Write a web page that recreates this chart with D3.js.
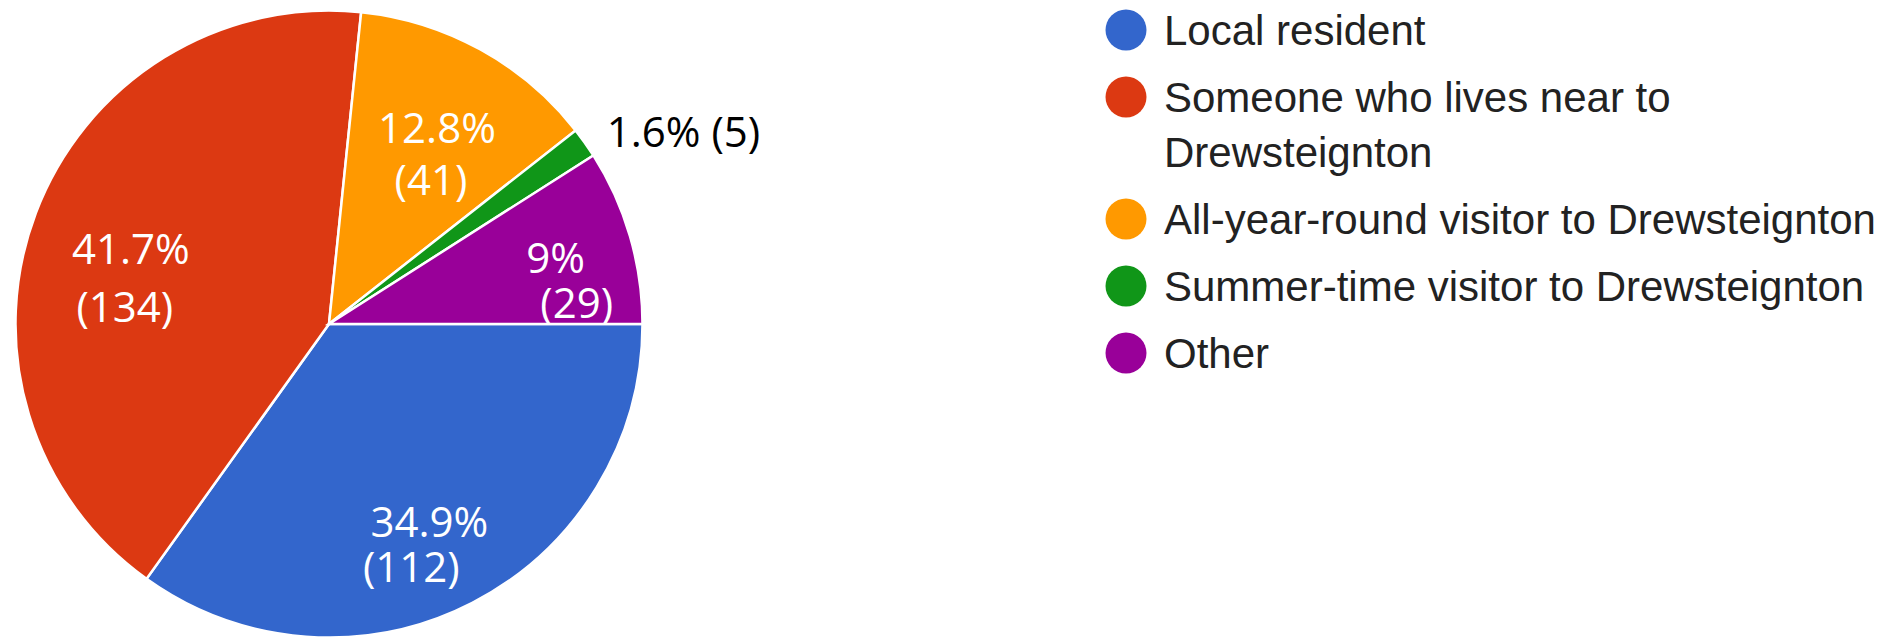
<!DOCTYPE html>
<html>
<head>
<meta charset="utf-8">
<script src="https://cdn.jsdelivr.net/npm/d3@7"></script>
<style>
  body { margin: 0; background: #fff; }
</style>
</head>
<body>
<svg id="pie-chart"></svg>
<script>
// data
const categories = ["Local resident", "Someone who lives near to Drewsteignton", "All-year-round visitor to Drewsteignton", "Summer-time visitor to Drewsteignton", "Other"];
const counts = [112, 134, 41, 5, 29];
const sliceColors = ["#3366cc", "#dc3912", "#ff9900", "#109618", "#990099"];

const width = 1903;
const height = 637;
const cx = 329, cy = 324;
const radius = 313.5;

// small hand tweaks for label placement [dx1, dy1, dx2, dy2] from the centroid
const labelNudge = [[0, 18, -18, 63], [7, 18, 1, 76], [2, 11, -4, 63], [0, 0, 0, 0], [16, 10, 37, 55]];

const total = d3.sum(counts);
const pieData = categories.map((c, i) => ({name: c, value: counts[i], idx: i}));

const color = d3.scaleOrdinal().domain(categories).range(sliceColors);

const svg = d3.select("#pie-chart")
  .attr("width", width)
  .attr("height", height);

const g = svg.append("g")
  .attr("transform", `translate(${cx}, ${cy})`);

// google style: first slice starts at 3 o'clock and goes clockwise, no sorting
const pie = d3.pie().value(d => d.value).sort(null)
  .startAngle(Math.PI / 2).endAngle(Math.PI / 2 + 2 * Math.PI);

const arc = d3.arc().innerRadius(0).outerRadius(radius);
const labelArc = d3.arc().innerRadius(radius * 0.7).outerRadius(radius * 0.7);
const edgeArc = d3.arc().innerRadius(radius).outerRadius(radius);

const arcs = pie(pieData);

g.selectAll("path")
  .data(arcs)
  .enter()
  .append("path")
  .attr("d", arc)
  .attr("fill", d => color(d.data.name))
  .attr("stroke", "#fff")
  .style("stroke-width", "2.5px");

const pct = v => String(Math.round(v / total * 1000) / 10);

const labelFont = "'Open Sans', 'DejaVu Sans', sans-serif";

// labels inside the big slices
arcs.forEach(d => {
  const p = pct(d.data.value);
  const n = labelNudge[d.data.idx];
  if (+p >= 5) {
    const [x, y] = labelArc.centroid(d);
    g.append("text")
      .attr("x", x + n[0]).attr("y", y + n[1])
      .attr("text-anchor", "middle")
      .style("font-family", labelFont)
      .style("font-size", "42px")
      .attr("fill", "#fff")
      .text(p + "%");
    g.append("text")
      .attr("x", x + n[2]).attr("y", y + n[3])
      .attr("text-anchor", "middle")
      .style("font-family", labelFont)
      .style("font-size", "42px")
      .attr("fill", "#fff")
      .text("(" + d.data.value + ")");
  } else {
    // thin slice gets its label outside
    const [x, y] = edgeArc.centroid(d);
    g.append("text")
      .attr("x", x + 22).attr("y", y + 4)
      .attr("text-anchor", "start")
      .style("font-family", labelFont)
      .style("font-size", "42px")
      .attr("fill", "#000")
      .text(p + "% (" + d.data.value + ")");
  }
});

// legend
const legendX = 1126;
const legendTop = 45;     // first baseline
const entryGap = 67;
const wrapLine = 55;
const wrapWidth = 740;

const legend = svg.append("g").attr("class", "legend");
let baseY = legendTop;

pieData.forEach(d => {
  const item = legend.append("g");
  item.append("circle")
    .attr("cx", legendX)
    .attr("cy", baseY - 15)
    .attr("r", 20.5)
    .attr("fill", color(d.name));

  const txt = item.append("text")
    .attr("x", legendX + 38)
    .attr("y", baseY)
    .style("font-family", "'Liberation Sans', Arial, sans-serif")
    .style("font-size", "42px")
    .attr("fill", "#222");

  // wrap long names
  const words = d.name.split(" ");
  let line = [];
  let lineNo = 0;
  let tspan = txt.append("tspan").attr("x", legendX + 38).attr("y", baseY);
  words.forEach(w => {
    line.push(w);
    tspan.text(line.join(" "));
    if (tspan.node().getComputedTextLength() > wrapWidth && line.length > 1) {
      line.pop();
      tspan.text(line.join(" "));
      line = [w];
      lineNo++;
      tspan = txt.append("tspan")
        .attr("x", legendX + 38)
        .attr("y", baseY + lineNo * wrapLine)
        .text(w);
    }
  });
  baseY += entryGap + lineNo * wrapLine;
});
</script>
</body>
</html>
